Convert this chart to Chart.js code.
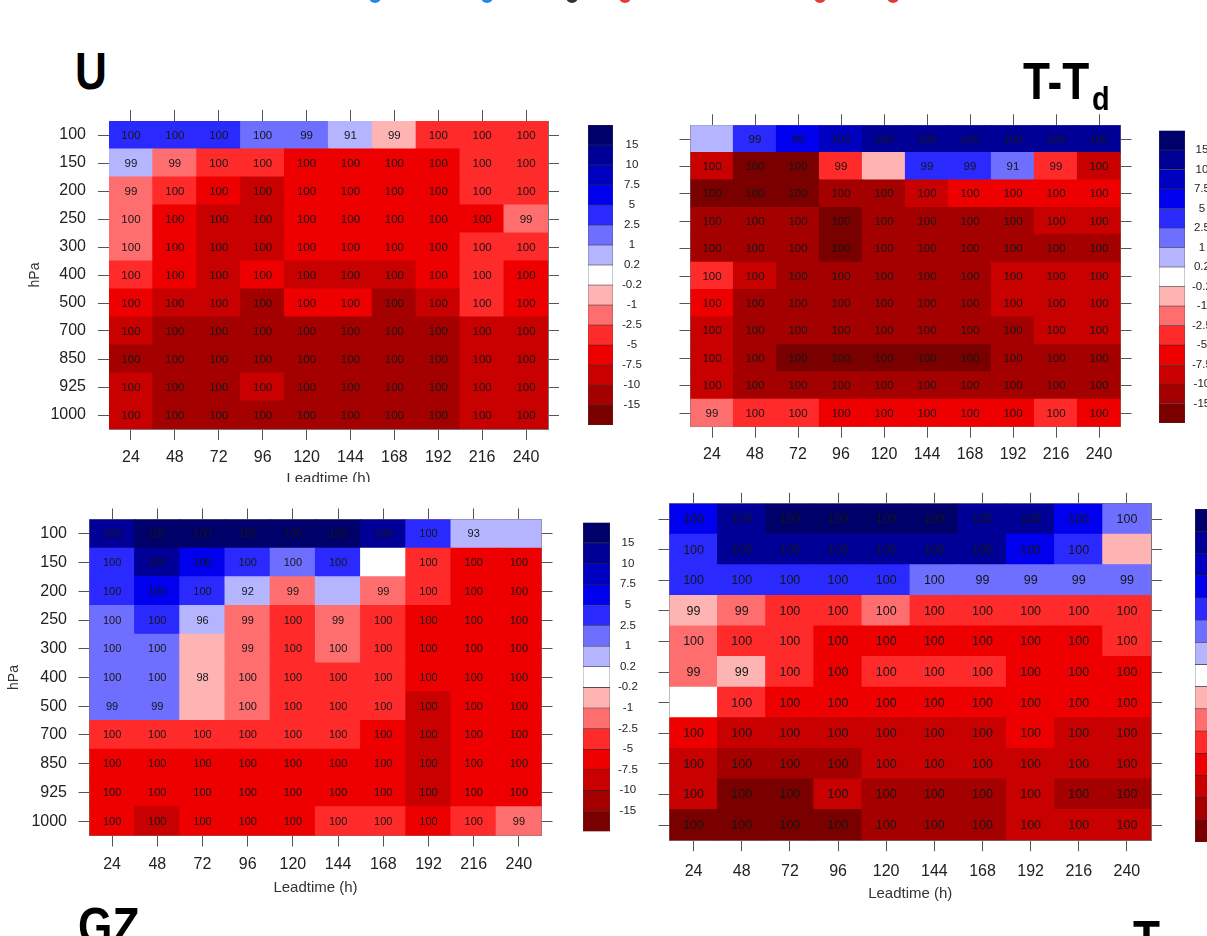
<!DOCTYPE html>
<html lang="en">
<head>
    <meta charset="UTF-8">
    <title>Verification heatmaps</title>
    <script src="https://cdn.jsdelivr.net/npm/chart.js"></script>
    <style>
        body { margin: 0; background: #fff; font-family: "Liberation Sans", Arial, sans-serif; }
        #page { position: relative; width: 1207px; height: 936px; overflow: hidden; background: #fff; }
        canvas { position: absolute; }
        .bg { background: #fff; }
        .ttl { position: absolute; font-weight: bold; font-size: 52px; line-height: 1; color: #000; transform: scaleX(0.85); transform-origin: left top; white-space: nowrap; z-index: 5; }
        .dot { position: absolute; width: 12px; height: 12px; border-radius: 50%; top: -9px; }
    </style>
</head>
<body>
<div id="page">
    <span class="dot" style="left:369px;background:#1e88e5"></span>
    <span class="dot" style="left:481px;background:#1e88e5"></span>
    <span class="dot" style="left:566px;background:#333"></span>
    <span class="dot" style="left:619px;background:#e53935"></span>
    <span class="dot" style="left:814px;background:#e53935"></span>
    <span class="dot" style="left:887px;background:#e53935"></span>

    <canvas id="cU" width="550" height="390" style="left:20px;top:100px"></canvas>
    <canvas id="cbU" width="80" height="320" style="left:580px;top:115px"></canvas>
    <canvas id="cTd" width="500" height="380" style="left:650px;top:100px"></canvas>
    <canvas id="cbTd" width="57" height="315" style="left:1150px;top:120px"></canvas>
    <canvas id="cGZ" class="bg" width="570" height="454" style="left:0px;top:482px"></canvas>
    <canvas id="cT" class="bg" width="560" height="454" style="left:630px;top:482px"></canvas>
    <canvas id="cbGZ" width="80" height="330" style="left:575px;top:512px"></canvas>
    <canvas id="cbT" width="60" height="350" style="left:1190px;top:500px"></canvas>

    <div class="ttl" style="left:75px;top:45px">U</div>
    <div class="ttl" style="left:1023px;top:55px">T-T</div>
    <div class="ttl" style="left:1092px;top:81px;font-size:34px">d</div>
    <div class="ttl" style="left:78px;top:900px">GZ</div>
    <div class="ttl" style="left:1133px;top:913px">T</div>
</div>

<script>
    // axes
    const leads = ['24', '48', '72', '96', '120', '144', '168', '192', '216', '240'];
    const levels = ['100', '150', '200', '250', '300', '400', '500', '700', '850', '925', '1000'];

    // colour scale (bounds + 15 colours, lowest first)
    const cbBounds = [-15, -10, -7.5, -5, -2.5, -1, -0.2, 0.2, 1, 2.5, 5, 7.5, 10, 15];
    const cbColors = ['#7a0000', '#a50000', '#c80000', '#ee0000', '#ff2a2a', '#ff6e6e', '#ffb4b4',
                      '#ffffff', '#b4b4ff', '#6e6eff', '#2a2aff', '#0000ee', '#0000c0', '#000096', '#00006a'];

    // U : differences (rows = levels, cols = leadtimes) and significance labels
    const uVals = [
        [3.5, 3.5, 3.5, 1.7, 1.7, 0.6, -0.6, -3.5, -3.5, -3.5],
        [0.6, -1.7, -3.5, -3.5, -6, -6, -6, -6, -3.5, -3.5],
        [-1.7, -3.5, -6, -8.5, -6, -6, -6, -6, -3.5, -3.5],
        [-1.7, -6, -8.5, -8.5, -6, -6, -6, -6, -6, -1.7],
        [-1.7, -6, -8.5, -8.5, -6, -6, -6, -6, -3.5, -3.5],
        [-3.5, -6, -8.5, -6, -8.5, -8.5, -8.5, -6, -3.5, -6],
        [-6, -8.5, -8.5, -12, -6, -6, -12, -8.5, -3.5, -6],
        [-8.5, -12, -12, -12, -12, -12, -12, -12, -8.5, -8.5],
        [-12, -12, -12, -12, -12, -12, -12, -12, -8.5, -8.5],
        [-8.5, -12, -12, -8.5, -12, -12, -12, -12, -8.5, -8.5],
        [-8.5, -12, -12, -12, -12, -12, -12, -12, -8.5, -8.5]
    ];
    const uSig = [
        [100, 100, 100, 100, 99, 91, 99, 100, 100, 100],
        [99, 99, 100, 100, 100, 100, 100, 100, 100, 100],
        [99, 100, 100, 100, 100, 100, 100, 100, 100, 100],
        [100, 100, 100, 100, 100, 100, 100, 100, 100, 99],
        [100, 100, 100, 100, 100, 100, 100, 100, 100, 100],
        [100, 100, 100, 100, 100, 100, 100, 100, 100, 100],
        [100, 100, 100, 100, 100, 100, 100, 100, 100, 100],
        [100, 100, 100, 100, 100, 100, 100, 100, 100, 100],
        [100, 100, 100, 100, 100, 100, 100, 100, 100, 100],
        [100, 100, 100, 100, 100, 100, 100, 100, 100, 100],
        [100, 100, 100, 100, 100, 100, 100, 100, 100, 100]
    ];

    // T-Td
    const tdVals = [
        [0.6, 3.5, 6, 8.5, 12, 12, 12, 12, 12, 12],
        [-8.5, -17, -17, -3.5, -0.6, 3.5, 3.5, 1.7, -3.5, -8.5],
        [-17, -17, -17, -12, -12, -8.5, -6, -6, -6, -6],
        [-12, -12, -12, -17, -12, -12, -12, -12, -8.5, -8.5],
        [-12, -12, -12, -17, -12, -12, -12, -12, -12, -12],
        [-3.5, -8.5, -12, -12, -12, -12, -12, -8.5, -8.5, -8.5],
        [-6, -12, -12, -12, -12, -12, -12, -8.5, -8.5, -8.5],
        [-8.5, -12, -12, -12, -12, -12, -12, -12, -8.5, -8.5],
        [-8.5, -12, -17, -17, -17, -17, -17, -12, -12, -12],
        [-8.5, -12, -12, -12, -12, -12, -12, -12, -12, -12],
        [-1.7, -3.5, -3.5, -6, -6, -6, -6, -6, -3.5, -6]
    ];
    const tdSig = [
        ['', 99, 99, 100, 100, 100, 100, 100, 100, 100],
        [100, 100, 100, 99, '', 99, 99, 91, 99, 100],
        [100, 100, 100, 100, 100, 100, 100, 100, 100, 100],
        [100, 100, 100, 100, 100, 100, 100, 100, 100, 100],
        [100, 100, 100, 100, 100, 100, 100, 100, 100, 100],
        [100, 100, 100, 100, 100, 100, 100, 100, 100, 100],
        [100, 100, 100, 100, 100, 100, 100, 100, 100, 100],
        [100, 100, 100, 100, 100, 100, 100, 100, 100, 100],
        [100, 100, 100, 100, 100, 100, 100, 100, 100, 100],
        [100, 100, 100, 100, 100, 100, 100, 100, 100, 100],
        [99, 100, 100, 100, 100, 100, 100, 100, 100, 100]
    ];

    // GZ
    const gzVals = [
        [12, 17, 17, 17, 17, 17, 12, 3.5, 0.6, 0.6],
        [3.5, 12, 6, 3.5, 1.7, 3.5, 0, -3.5, -6, -6],
        [3.5, 6, 3.5, 0.6, -1.7, 0.6, -1.7, -3.5, -6, -6],
        [1.7, 3.5, 0.6, -1.7, -3.5, -1.7, -3.5, -6, -6, -6],
        [1.7, 1.7, -0.6, -1.7, -3.5, -1.7, -3.5, -6, -6, -6],
        [1.7, 1.7, -0.6, -1.7, -3.5, -3.5, -3.5, -6, -6, -6],
        [1.7, 1.7, -0.6, -1.7, -3.5, -3.5, -3.5, -8.5, -6, -6],
        [-3.5, -3.5, -3.5, -3.5, -3.5, -3.5, -6, -8.5, -6, -6],
        [-6, -6, -6, -6, -6, -6, -6, -8.5, -6, -6],
        [-6, -6, -6, -6, -6, -6, -6, -8.5, -6, -6],
        [-6, -8.5, -6, -6, -6, -3.5, -3.5, -6, -3.5, -1.7]
    ];
    const gzSig = [
        [100, 100, 100, 100, 100, 100, 100, 100, 93, ''],
        [100, 100, 100, 100, 100, 100, '', 100, 100, 100],
        [100, 100, 100, 92, 99, '', 99, 100, 100, 100],
        [100, 100, 96, 99, 100, 99, 100, 100, 100, 100],
        [100, 100, '', 99, 100, 100, 100, 100, 100, 100],
        [100, 100, 98, 100, 100, 100, 100, 100, 100, 100],
        [99, 99, '', 100, 100, 100, 100, 100, 100, 100],
        [100, 100, 100, 100, 100, 100, 100, 100, 100, 100],
        [100, 100, 100, 100, 100, 100, 100, 100, 100, 100],
        [100, 100, 100, 100, 100, 100, 100, 100, 100, 100],
        [100, 100, 100, 100, 100, 100, 100, 100, 100, 99]
    ];

    // T
    const tVals = [
        [6, 12, 17, 17, 17, 17, 12, 12, 6, 1.7],
        [3.5, 12, 12, 12, 12, 12, 12, 6, 3.5, -0.6],
        [3.5, 3.5, 3.5, 3.5, 3.5, 1.7, 1.7, 1.7, 1.7, 1.7],
        [-0.6, -1.7, -3.5, -3.5, -1.7, -3.5, -3.5, -3.5, -3.5, -3.5],
        [-1.7, -3.5, -3.5, -6, -6, -6, -6, -6, -6, -3.5],
        [-1.7, -0.6, -3.5, -6, -3.5, -3.5, -3.5, -6, -6, -6],
        [0, -3.5, -6, -6, -6, -6, -6, -6, -6, -6],
        [-6, -8.5, -8.5, -8.5, -8.5, -8.5, -8.5, -6, -8.5, -8.5],
        [-8.5, -12, -12, -12, -8.5, -8.5, -8.5, -8.5, -8.5, -8.5],
        [-8.5, -17, -17, -8.5, -12, -12, -12, -8.5, -12, -12],
        [-17, -17, -17, -17, -12, -12, -12, -8.5, -8.5, -8.5]
    ];
    const tSig = [
        [100, 100, 100, 100, 100, 100, 100, 100, 100, 100],
        [100, 100, 100, 100, 100, 100, 100, 100, 100, ''],
        [100, 100, 100, 100, 100, 100, 99, 99, 99, 99],
        [99, 99, 100, 100, 100, 100, 100, 100, 100, 100],
        [100, 100, 100, 100, 100, 100, 100, 100, 100, 100],
        [99, 99, 100, 100, 100, 100, 100, 100, 100, 100],
        ['', 100, 100, 100, 100, 100, 100, 100, 100, 100],
        [100, 100, 100, 100, 100, 100, 100, 100, 100, 100],
        [100, 100, 100, 100, 100, 100, 100, 100, 100, 100],
        [100, 100, 100, 100, 100, 100, 100, 100, 100, 100],
        [100, 100, 100, 100, 100, 100, 100, 100, 100, 100]
    ];

    const FONT = '"Liberation Sans", Arial, sans-serif';
    Chart.defaults.font.family = FONT;

    function colorFor(v) {
        return cbColors[cbBounds.filter(b => v > b).length];
    }

    // force the size of an axis box so the plot areas land where they should
    function size(px) {
        return s => {
            if (s.isHorizontal()) s.height = px; else s.width = px;
            s.paddingTop = s.paddingBottom = s.paddingLeft = s.paddingRight = 0;
        };
    }

    const rowTicks = s => { s.ticks = levels.map((_, i) => ({ value: i + 0.5 })); };

    // writes the significance numbers in the middle of each cell
    const cellText = {
        id: 'cellText',
        afterDatasetsDraw(chart, args, opts) {
            const ctx = chart.ctx;
            const meta = chart.getDatasetMeta(0);
            const data = chart.data.datasets[0].data;
            ctx.save();
            ctx.font = opts.size + 'px ' + FONT;
            ctx.fillStyle = '#151515';
            ctx.textAlign = 'center';
            ctx.textBaseline = 'middle';
            meta.data.forEach((el, k) => {
                if (data[k].s === '') return;
                const p = el.getCenterPoint();
                ctx.fillText(String(data[k].s), p.x, p.y + 0.5);
            });
            ctx.restore();
        }
    };

    function heatmap(id, vals, sig, g) {
        const cells = [];
        vals.forEach((row, i) => row.forEach((v, j) => {
            cells.push({ x: leads[j], y: [i, i + 1], v: v, s: sig[i][j] });
        }));
        const ticksGrid = { drawOnChartArea: false, drawTicks: true, tickLength: 11, color: '#555', lineWidth: 1, offset: false };
        const frame = { color: '#777', width: 1 };
        new Chart(document.getElementById(id), {
            type: 'bar',
            data: {
                datasets: [{
                    data: cells,
                    backgroundColor: c => colorFor(c.raw.v),
                    borderWidth: 0,
                    inflateAmount: 0.6,
                    barPercentage: 1,
                    categoryPercentage: 1
                }]
            },
            options: {
                responsive: false,
                animation: false,
                plugins: { legend: { display: false }, tooltip: { enabled: false }, cellText: { size: g.cell } },
                scales: {
                    x: {
                        type: 'category', labels: leads, offset: true, z: 1,
                        grid: ticksGrid, border: frame,
                        ticks: { font: { size: 16 }, color: '#222', padding: g.xPad, maxRotation: 0, autoSkip: false },
                        title: { display: g.xTitle, text: 'Leadtime (h)', font: { size: 15 }, color: '#333', padding: { top: 0, bottom: g.xTitlePad } },
                        afterFit: size(g.bottom)
                    },
                    xTop: {
                        type: 'category', position: 'top', labels: leads, offset: true, z: 1,
                        grid: ticksGrid, border: frame, ticks: { display: false },
                        afterFit: size(g.top)
                    },
                    y: {
                        type: 'linear', min: 0, max: 11, reverse: true, z: 1,
                        afterBuildTicks: rowTicks,
                        grid: ticksGrid, border: frame,
                        ticks: { display: g.yLabels, autoSkip: false, font: { size: 16 }, color: '#222', padding: g.yPad,
                                 callback: v => levels[Math.floor(v)] },
                        title: { display: g.yLabels, text: 'hPa', font: { size: 14 }, color: '#333', padding: { top: g.yTitlePad, bottom: 0 } },
                        afterFit: size(g.left)
                    },
                    yRight: {
                        type: 'linear', position: 'right', min: 0, max: 11, reverse: true, z: 1,
                        afterBuildTicks: rowTicks,
                        grid: ticksGrid, border: frame, ticks: { display: false },
                        afterFit: size(g.right)
                    }
                }
            },
            plugins: [cellText]
        });
    }

    function colorbar(id, g) {
        const boxes = cbColors.map((c, k) => ({ x: 'cb', y: [k, k + 1], c: c }));
        new Chart(document.getElementById(id), {
            type: 'bar',
            data: {
                datasets: [{
                    data: boxes,
                    backgroundColor: c => c.raw.c,
                    borderColor: 'rgba(25,25,25,0.85)',
                    borderWidth: 0.6,
                    borderSkipped: false,
                    barPercentage: 1,
                    categoryPercentage: 1
                }]
            },
            options: {
                responsive: false,
                animation: false,
                layout: { padding: g.pad },
                plugins: { legend: { display: false }, tooltip: { enabled: false } },
                scales: {
                    x: { type: 'category', labels: ['cb'], display: false },
                    y: {
                        type: 'linear', position: 'right', min: 0, max: 15,
                        afterBuildTicks: s => { s.ticks = cbBounds.map((b, i) => ({ value: i + 1 })); },
                        grid: { display: false, drawTicks: false },
                        border: { display: false },
                        ticks: { autoSkip: false, crossAlign: 'center', padding: g.lp, font: { size: 11.5 }, color: '#222',
                                 callback: v => String(cbBounds[v - 1]) },
                        afterFit: size(g.right)
                    }
                }
            }
        });
    }

    heatmap('cU', uVals, uSig, { left: 89, right: 22, top: 21, bottom: 61, xPad: 8.4, yPad: 12, yTitlePad: 6.6, xTitle: true, xTitlePad: 2, yLabels: true, cell: 11.5 });
    heatmap('cTd', tdVals, tdSig, { left: 40.5, right: 29.5, top: 25.3, bottom: 53.3, xPad: 7.7, yPad: 12, yTitlePad: 0, xTitle: false, xTitlePad: 0, yLabels: false, cell: 11.5 });
    heatmap('cGZ', gzVals, gzSig, { left: 89.5, right: 28.5, top: 37.5, bottom: 100.5, xPad: 8.9, yPad: 11.5, yTitlePad: 5.6, xTitle: true, xTitlePad: 39, yLabels: true, cell: 11 });
    heatmap('cT', tVals, tSig, { left: 39.5, right: 39, top: 21.7, bottom: 95.7, xPad: 11.1, yPad: 12, yTitlePad: 0, xTitle: true, xTitlePad: 33, yLabels: false, cell: 12.5 });

    colorbar('cbU', { pad: { left: 8, top: 10, bottom: 10, right: 0 }, right: 47, lp: 9 });
    colorbar('cbTd', { pad: { left: 9, top: 10.5, bottom: 12, right: 0 }, right: 22, lp: 7 });
    colorbar('cbGZ', { pad: { left: 8, top: 10.5, bottom: 10.5, right: 0 }, right: 45, lp: 8 });
    colorbar('cbT', { pad: { left: 5, top: 9, bottom: 8, right: 0 }, right: 28, lp: 8 });
</script>
</body>
</html>
